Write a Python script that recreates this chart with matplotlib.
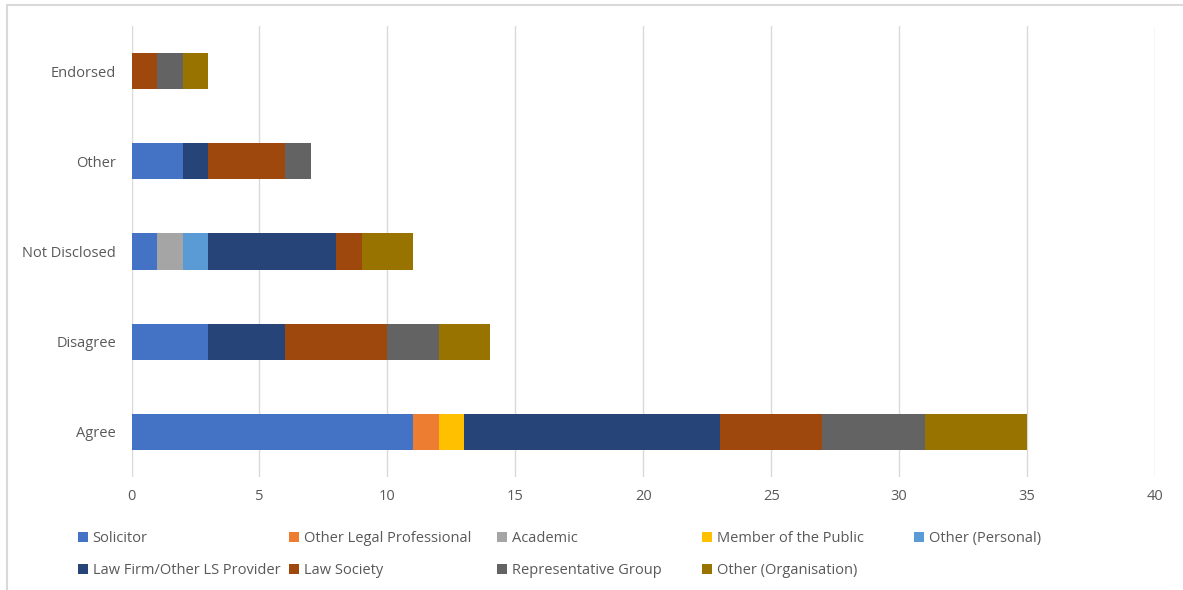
import matplotlib
matplotlib.use("Agg")
import matplotlib.pyplot as plt
from matplotlib.patches import Rectangle
import numpy as np

categories = ["Agree", "Disagree", "Not Disclosed", "Other", "Endorsed"]
series = [
    "Solicitor",
    "Other Legal Professional",
    "Academic",
    "Member of the Public",
    "Other (Personal)",
    "Law Firm/Other LS Provider",
    "Law Society",
    "Representative Group",
    "Other (Organisation)",
]
solicitor = [11, 3, 1, 2, 0]
other_legal = [1, 0, 0, 0, 0]
academic = [0, 0, 1, 0, 0]
member_public = [1, 0, 0, 0, 0]
other_personal = [0, 0, 1, 0, 0]
law_firm = [10, 3, 5, 1, 0]
law_society = [4, 4, 1, 3, 1]
rep_group = [4, 2, 0, 1, 1]
other_org = [4, 2, 2, 0, 1]
values = [solicitor, other_legal, academic, member_public, other_personal,
          law_firm, law_society, rep_group, other_org]
colors = ["#4472C4", "#ED7D31", "#A5A5A5", "#FFC000", "#5B9BD5",
          "#264478", "#9E480E", "#636363", "#997300"]
x_ticks = [0, 5, 10, 15, 20, 25, 30, 35, 40]

plt.rcParams["font.family"] = ["Open Sans", "DejaVu Sans"]
text_color = "#595959"

W, H = 1183, 590
fig = plt.figure(figsize=(W / 100, H / 100), dpi=100)
ax = fig.add_axes([131.5 / W, 1 - 477 / H, (1155 - 131.5) / W, (477 - 26) / H])

ypos = np.arange(len(categories))
left = np.zeros(len(categories))
handles = []
for name, vals, col in zip(series, values, colors):
    vals = np.array(vals, dtype=float)
    h = ax.barh(ypos, vals, left=left, height=0.4, color=col, label=name,
                zorder=3)
    handles.append(h)
    left += vals

ax.set_xlim(0, 40)
ax.set_ylim(-0.5, len(categories) - 0.5)
ax.set_xticks(x_ticks)
ax.set_xticklabels([str(t) for t in x_ticks])
ax.set_yticks(ypos)
ax.set_yticklabels(categories)
ax.tick_params(axis="both", length=0, colors=text_color, labelsize=10.5)
ax.tick_params(axis="y", pad=11)
ax.tick_params(axis="x", pad=9)
for s in ax.spines.values():
    s.set_visible(False)
ax.grid(axis="x", color="#D9D9D9", linewidth=1.0, zorder=0)
ax.set_axisbelow(True)

# legend laid out in five fixed columns, two rows
col_x = [78, 289, 497, 702, 914]
for c in range(5):
    idx = [c, c + 5] if c + 5 < len(series) else [c]
    leg = fig.legend([handles[i] for i in idx], [series[i] for i in idx],
                     loc="upper left",
                     bbox_to_anchor=(col_x[c] / W, 1 - 531 / H),
                     frameon=False, fontsize=10.5, handlelength=0.7,
                     handleheight=0.7, handletextpad=0.3,
                     labelspacing=1.15, borderpad=0, borderaxespad=0)
    for t in leg.get_texts():
        t.set_color(text_color)

# outer chart border
fig.patches.append(Rectangle((7 / W, -0.05), 1.1, 1 - 5 / H + 0.05,
                             transform=fig.transFigure, fill=False,
                             edgecolor="#D9D9D9", linewidth=1.5))

fig.savefig("out.png", dpi=100)
